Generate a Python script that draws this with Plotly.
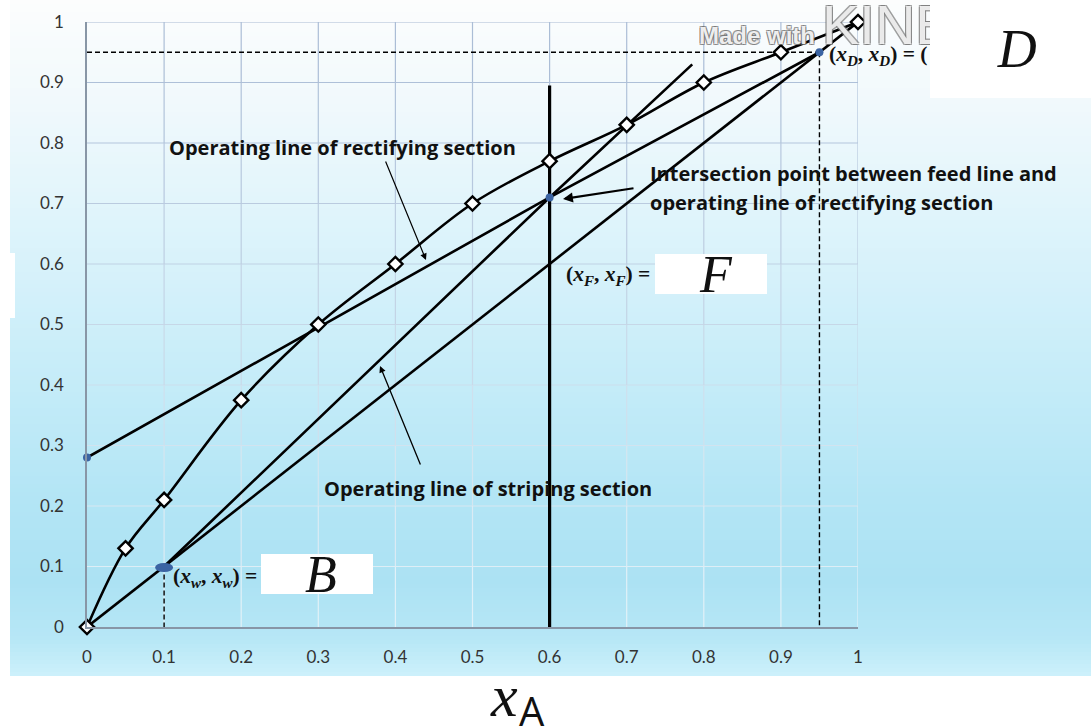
import plotly.graph_objects as go

# ---- data -------------------------------------------------------------
# vapour-liquid equilibrium curve (y vs x)
X_EQ = [0, 0.05, 0.1, 0.2, 0.3, 0.4, 0.5, 0.6, 0.7, 0.8, 0.9, 1.0]
Y_EQ = [0, 0.13, 0.21, 0.375, 0.5, 0.6, 0.7, 0.77, 0.83, 0.9, 0.95, 1.0]

# key compositions
X_W = 0.1    # bottoms
X_F = 0.6    # feed
X_D = 0.95   # distillate

# rectifying operating line: y-intercept -> feed intersection -> (xD, xD)
RECT_X = [0, 0.6, 0.95]
RECT_Y = [0.28, 0.71, 0.95]

# stripping operating line: (xW, xW) -> feed intersection -> extension
STRIP_X = [0.1, 0.6, 0.785]
STRIP_Y = [0.1, 0.71, 0.93]

# feed line (vertical)
FEED_X = [0.6, 0.6]
FEED_Y = [0, 0.895]

# 45-degree diagonal
DIAG_X = [0, 1]
DIAG_Y = [0, 1]

# highlighted points
PT_X = [0, 0.6, 0.6, 0.95]
PT_Y = [0.28, 0.71, -0.004, 0.95]

TICK_VALS = [0, 0.1, 0.2, 0.3, 0.4, 0.5, 0.6, 0.7, 0.8, 0.9, 1.0]
TICK_TEXT = ["0", "0.1", "0.2", "0.3", "0.4", "0.5", "0.6", "0.7", "0.8", "0.9", "1"]

# ---- page geometry ------------------------------------------------------
W, H = 1091, 726
L, R, T, B = 87, 858, 22, 627


def px(xp):
    return (xp - L) / (R - L)


def py(yp):
    return (B - yp) / (B - T)


def lerp(c0, c1, t):
    return tuple(round(a + (b - a) * t) for a, b in zip(c0, c1))


def rgb(c):
    return "rgb(%d,%d,%d)" % c


BLACK = "#000000"
BLUE = "#3b64a3"
TICKFONT = "Lato, 'Open Sans', sans-serif"
BOLDFONT = "'Open Sans', 'Noto Sans', sans-serif"
SERIF = "'Liberation Serif', 'DejaVu Serif', serif"

fig = go.Figure()

line_kw = dict(mode="lines", hoverinfo="skip", showlegend=False, cliponaxis=False)

fig.add_trace(go.Scatter(x=DIAG_X, y=DIAG_Y, line=dict(color=BLACK, width=2.6), **line_kw))
fig.add_trace(go.Scatter(x=RECT_X, y=RECT_Y, line=dict(color=BLACK, width=2.6), **line_kw))
fig.add_trace(go.Scatter(x=STRIP_X, y=STRIP_Y, line=dict(color=BLACK, width=2.6), **line_kw))
fig.add_trace(go.Scatter(x=FEED_X, y=FEED_Y, line=dict(color=BLACK, width=3.2), **line_kw))

# dashed guide lines for xD and xW
dash = dict(color=BLACK, width=1.4, dash="5px,3px")
fig.add_trace(go.Scatter(x=[0, X_D], y=[X_D, X_D], line=dash, **line_kw))
fig.add_trace(go.Scatter(x=[X_D, X_D], y=[X_D, 0], line=dash, **line_kw))
fig.add_trace(go.Scatter(x=[X_W, X_W], y=[X_W, 0], line=dash, **line_kw))

# equilibrium curve
fig.add_trace(go.Scatter(
    x=X_EQ, y=Y_EQ, mode="lines+markers",
    line=dict(color=BLACK, width=2.6, shape="spline", smoothing=1.0),
    marker=dict(symbol="diamond", size=11, color="white",
                line=dict(color=BLACK, width=2.4)),
    hoverinfo="skip", showlegend=False, cliponaxis=False))

# highlighted points
fig.add_trace(go.Scatter(
    x=PT_X, y=PT_Y, mode="markers",
    marker=dict(size=8, color=BLUE, line=dict(width=0)),
    hoverinfo="skip", showlegend=False, cliponaxis=False))

shapes = []

# background gradient (white at the top to light cyan-blue at the bottom)
stops = [(0, (252, 253, 253)), (100, (241, 249, 252)), (200, (226, 245, 251)),
         (300, (210, 240, 250)), (400, (194, 235, 248)), (500, (179, 229, 245)),
         (580, (172, 226, 243)), (640, (183, 231, 246)), (676, (205, 241, 251))]
step = 4
yp = 0
while yp < 676:
    mid = yp + step / 2
    for (a, ca), (b, cb) in zip(stops[:-1], stops[1:]):
        if a <= mid <= b:
            col = lerp(ca, cb, (mid - a) / (b - a))
            break
    shapes.append(dict(type="rect", xref="paper", yref="paper",
                       x0=px(10), x1=px(W), y0=py(min(yp + step + 0.6, 676)), y1=py(yp),
                       fillcolor=rgb(col), line=dict(width=0), layer="below"))
    yp += step

# grid: grey-blue in the pale upper part, whitish in the blue lower part
G_TOP = (168, 186, 212)
G_BOT = (228, 244, 250)


def grid_col(v):
    return rgb(lerp(G_BOT, G_TOP, v))


for v in TICK_VALS[1:]:
    shapes.append(dict(type="line", xref="x", yref="y", x0=0, x1=1, y0=v, y1=v,
                       line=dict(color=grid_col(v), width=1.2), layer="below"))
for v in TICK_VALS[1:]:
    for a, b in zip(TICK_VALS[:-1], TICK_VALS[1:]):
        shapes.append(dict(type="line", xref="x", yref="y", x0=v, x1=v, y0=a, y1=b,
                           line=dict(color=grid_col((a + b) / 2), width=1.2), layer="below"))

# bottoms point drawn as a flat oval
shapes.append(dict(type="circle", xref="x", yref="y",
                   x0=X_W - 0.0117, x1=X_W + 0.0117, y0=X_W - 0.0092, y1=X_W + 0.0058,
                   fillcolor=BLUE, line=dict(width=0), layer="above"))

# white label boxes
for (x0, x1, y0, y1) in [(655, 767, 254, 294), (261, 373, 554, 594), (0, 15, 253, 318)]:
    shapes.append(dict(type="rect", xref="paper", yref="paper",
                       x0=px(x0), x1=px(x1), y0=py(y1), y1=py(y0),
                       fillcolor="white", line=dict(width=0), layer="above"))

ann = []


def text(x, y, s, size, family=BOLDFONT, xanchor="center", align="center", color="#111111", **kw):
    ann.append(dict(xref="paper", yref="paper", x=px(x), y=py(y), text=s,
                    showarrow=False, xanchor=xanchor, yanchor="middle", align=align,
                    font=dict(family=family, size=size, color=color), **kw))


def arrow(hx, hy, tx, ty, width, head=2, size=1.0):
    ann.append(dict(xref="x", yref="y", axref="x", ayref="y",
                    x=px(hx), y=py(hy), ax=px(tx), ay=py(ty), text="",
                    showarrow=True, arrowhead=head, arrowsize=size,
                    arrowwidth=width, arrowcolor=BLACK, standoff=0, startstandoff=0))


# watermark
outline = ("-1px -1px 0 rgba(110,110,110,0.75), 1px -1px 0 rgba(110,110,110,0.75), "
           "-1px 1px 0 rgba(110,110,110,0.75), 1px 1px 0 rgba(110,110,110,0.75)")
ann.append(dict(xref="paper", yref="paper", x=px(757), y=py(35), text="<b>Made with</b>",
                showarrow=False, xanchor="center", yanchor="middle",
                font=dict(family="'Liberation Sans', Arial, sans-serif", size=24,
                          color="rgba(255,255,255,0.9)", shadow=outline)))
ann.append(dict(xref="paper", yref="paper", x=px(820), y=py(24), text="KINE",
                showarrow=False, xanchor="left", yanchor="middle",
                font=dict(family="'Liberation Sans Narrow', 'Liberation Sans', Arial, sans-serif",
                          size=56, color="rgba(255,255,255,0.85)", shadow=outline)))

# callouts
text(342, 147, "<b>Operating line of rectifying section</b>", 20)
arrow(426, 260, 385, 160, 1.2, head=2, size=1.1)

text(648, 174, "<b>Intersection point between feed line and</b>", 20, xanchor="left", align="left")
text(648, 203, "<b>operating line of rectifying section</b>", 20, xanchor="left", align="left")
arrow(563, 199, 635, 188, 2.2, head=2, size=0.9)

text(322, 488, "<b>Operating line of striping section</b>", 20, xanchor="left", align="left")
arrow(380, 366, 421, 466, 1.3, head=2, size=1.0)

# composition labels
text(652, 275, "<b>(<i>x<sub>F</sub></i>, <i>x<sub>F</sub></i>) =</b>", 21.5, family=SERIF, xanchor="right")
text(716, 274, "<i>F</i>", 52, family=SERIF)
text(171, 577, "<b>(<i>x<sub>w</sub></i>, <i>x<sub>w</sub></i>) =</b>", 21.5, family=SERIF, xanchor="left")
text(321, 574, "<i>B</i>", 52, family=SERIF)
text(827, 56, "<b>(<i>x<sub>D</sub></i>, <i>x<sub>D</sub></i>) = (</b>", 21.5, family=SERIF, xanchor="left")

# distillate box drawn last so it sits over the watermark and the label above
ann.append(dict(xref="paper", yref="paper", x=px(930), y=py(0), xanchor="left", yanchor="top",
                text="&nbsp;<i>D</i>", showarrow=False, width=161, height=98,
                bgcolor="white", borderpad=0, borderwidth=0, align="center", valign="middle",
                font=dict(family=SERIF, size=54, color="#111111")))

# axis title x_A
text(504, 696, "<i>x</i>", 60, family=SERIF)
text(532, 710, "A", 40, family="'Open Sans', sans-serif")

fig.update_layout(
    width=W, height=H, autosize=False,
    margin=dict(l=L, r=W - R, t=T, b=H - B, pad=0),
    paper_bgcolor="white", plot_bgcolor="rgba(0,0,0,0)",
    shapes=shapes, annotations=ann, showlegend=False,
    xaxis=dict(range=[0, 1], tickvals=TICK_VALS, ticktext=TICK_TEXT, showgrid=False,
               zeroline=False, showline=True, linecolor="#8896a6", linewidth=1.5,
               ticks="", ticklabelstandoff=14,
               tickfont=dict(family=TICKFONT, size=17, color="#333333")),
    yaxis=dict(range=[0, 1], tickvals=TICK_VALS, ticktext=TICK_TEXT, showgrid=False,
               zeroline=False, showline=True, linecolor="#8896a6", linewidth=1.5,
               ticks="", ticklabelstandoff=18,
               tickfont=dict(family=TICKFONT, size=17, color="#333333")),
)

fig.write_html("out.html")
